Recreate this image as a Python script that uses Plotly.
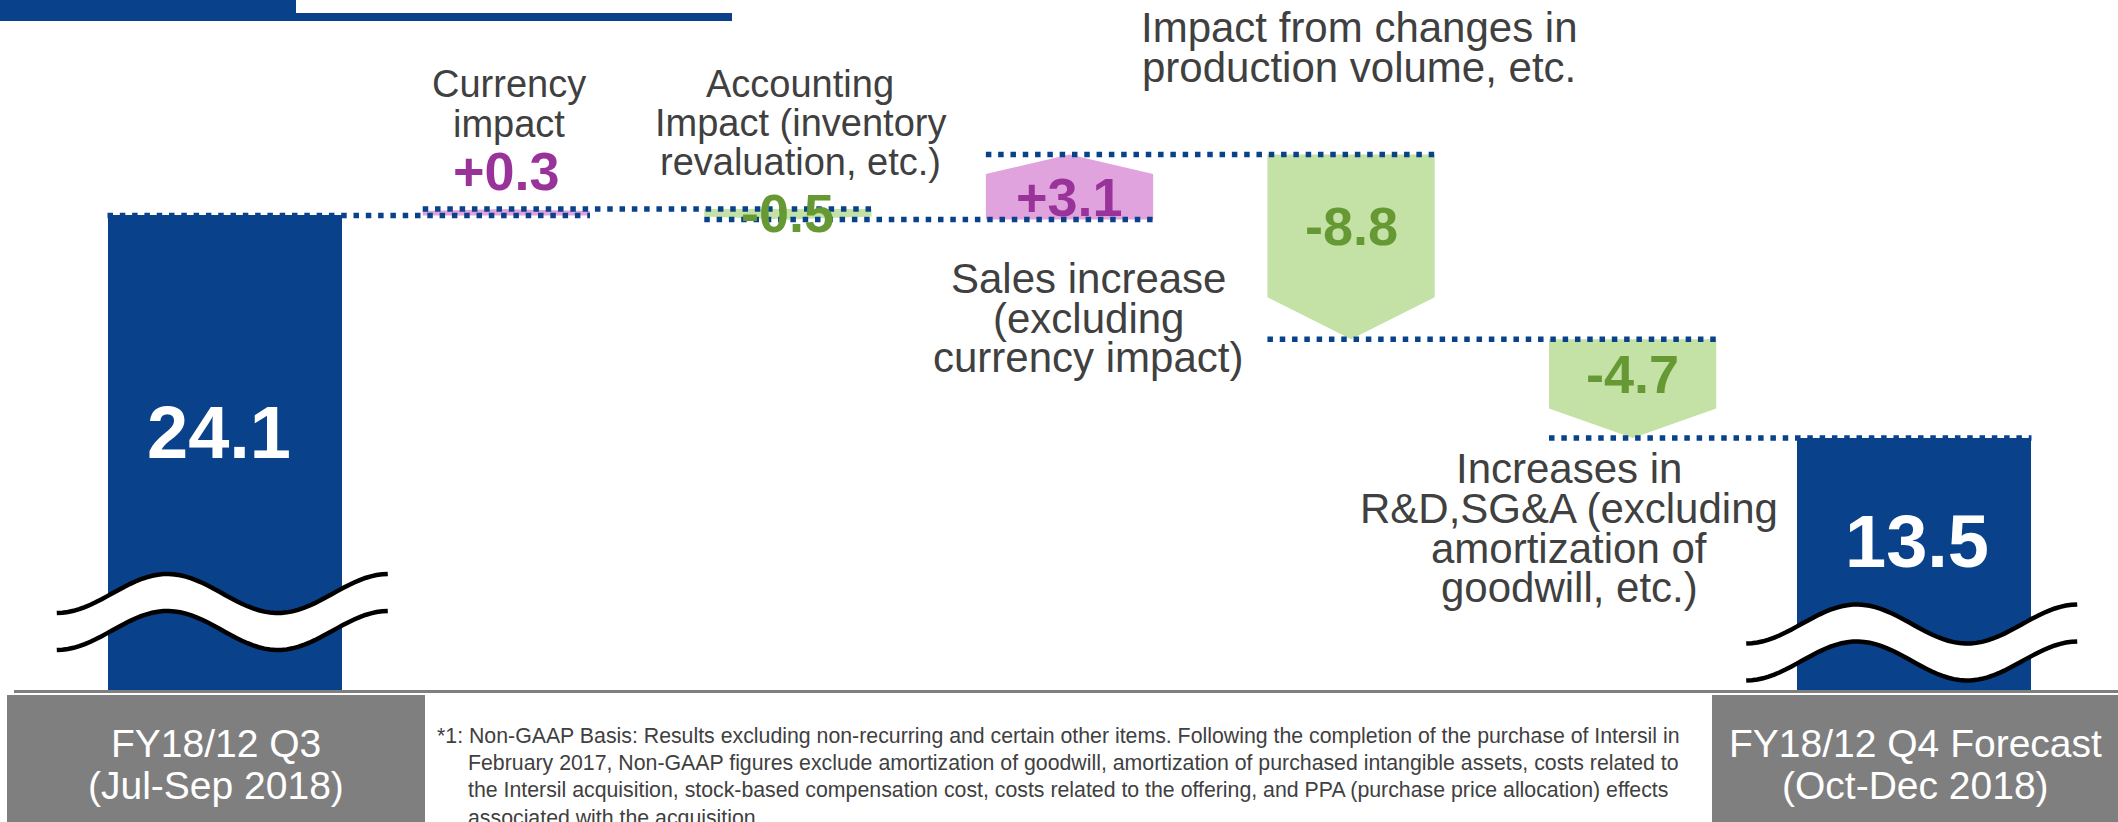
import numpy as np
import plotly.graph_objects as go

# ---------------- data ----------------
categories = ["FY18/12 Q3", "Currency impact", "Accounting impact", "Sales increase",
              "Production volume impact", "R&D, SG&A increase", "FY18/12 Q4 Forecast"]
q3_value = 24.1
step_changes = [0.3, -0.5, 3.1, -8.8, -4.7]
q4_value = 13.5
value_labels = ["24.1", "+0.3", "-0.5", "+3.1", "-8.8", "-4.7", "13.5"]

currency_text = ["Currency", "impact"]
accounting_text = ["Accounting", "Impact (inventory", "revaluation, etc.)"]
sales_text = ["Sales increase", "(excluding", "currency impact)"]
production_text = ["Impact from changes in", "production volume, etc."]
rd_text = ["Increases in", "R&D,SG&A (excluding", "amortization of", "goodwill, etc.)"]
q3_period = ["FY18/12 Q3", "(Jul-Sep 2018)"]
q4_period = ["FY18/12 Q4 Forecast", "(Oct-Dec 2018)"]
footnote = [
    "*1: Non-GAAP Basis: Results excluding non-recurring and certain other items. Following the completion of the purchase of Intersil in",
    "February 2017, Non-GAAP figures exclude amortization of goodwill, amortization of purchased intangible assets, costs related to",
    "the Intersil acquisition, stock-based compensation cost, costs related to the offering, and PPA (purchase price allocation) effects",
    "associated with the acquisition.",
]

# ---------------- layout constants ----------------
W, H = 2118, 822
ML, MR, MT, MB = 84, 63, 0, 132
PW, PH = W - ML - MR, H - MT - MB
PX_PER_Y = 21.0
Y_MIN = 1.5
Y_MAX = Y_MIN + PH / PX_PER_Y
PX_PER_X = PW / 7.0

BLUE = "#09428a"
PINK = "#e0a3de"
GREEN = "#c4e1a6"
PURPLE = "#993399"
DKGREEN = "#669933"
TXT = "#404040"
GRAY = "#7f7f7f"
FONT = "Liberation Sans, Arial, sans-serif"

BIG_W = 0.833
SMALL_W = 0.594


def xp(px):
    return (px - ML) / PW


def yp(py):
    return (MT + PH - py) / PH


def cat_px(i):
    return ML + (i + 0.5) * PX_PER_X


def line_ann(txt, cx, baseline, size, color, bold=False, anchor="center"):
    return dict(text=txt, xref="paper", yref="paper", x=xp(cx),
                y=yp(baseline - 0.3465 * size), xanchor=anchor, yanchor="middle",
                showarrow=False,
                font=dict(family=FONT, size=size, color=color,
                          weight="bold" if bold else "normal"))


fig = go.Figure()

# cumulative levels
levels = [q3_value]
for c in step_changes:
    levels.append(round(levels[-1] + c, 4))
x_idx = list(range(len(categories)))
widths = [BIG_W] + [SMALL_W] * len(step_changes) + [BIG_W]

# total bars
fig.add_trace(go.Bar(x=[x_idx[0], x_idx[-1]], y=[q3_value, q4_value],
                     width=[BIG_W, BIG_W], marker=dict(color=BLUE, line=dict(width=0)),
                     hoverinfo="skip"))

# step arrows
for j, v in enumerate(step_changes, start=1):
    s, e = levels[j - 1], levels[j]
    hw = SMALL_W / 2
    tip = np.sign(v) * min(0.3 * abs(v), 2.0)
    xs = [j - hw, j + hw, j + hw, j, j - hw, j - hw]
    ys = [s, s, e - tip, e, e - tip, s]
    fig.add_trace(go.Scatter(x=xs, y=ys, mode="lines", fill="toself",
                             fillcolor=PINK if v > 0 else GREEN,
                             line=dict(width=0), hoverinfo="skip"))

# dotted connectors
for i in range(len(levels)):
    x0 = x_idx[i] - widths[i] / 2
    x1 = x_idx[i + 1] + widths[i + 1] / 2
    fig.add_trace(go.Scatter(x=[x0, x1], y=[levels[i], levels[i]], mode="lines",
                             line=dict(color=BLUE, width=5.5, dash="5.5px,6.8px"),
                             hoverinfo="skip"))

annotations = []
VAL_SIZE = 54

# value labels for steps
for j, v in enumerate(step_changes, start=1):
    s, e = levels[j - 1], levels[j]
    col = PURPLE if v > 0 else DKGREEN
    tip = np.sign(v) * min(0.3 * abs(v), 2.0)
    if j == 1:
        annotations.append(dict(text=value_labels[j], x=j, y=e, xref="x", yref="y",
                                xanchor="center", yanchor="bottom", yshift=6,
                                showarrow=False,
                                font=dict(family=FONT, size=VAL_SIZE, color=col, weight="bold")))
    else:
        ymid = s + (v - tip) / 2
        annotations.append(dict(text=value_labels[j], x=j, y=ymid, xref="x", yref="y",
                                xanchor="center", yanchor="middle", showarrow=False,
                                font=dict(family=FONT, size=VAL_SIZE, color=col, weight="bold")))

# total labels (white, in bars)
annotations.append(dict(text=value_labels[0], x=x_idx[0], y=yp(458 - 0.3465 * 74),
                        xref="x", yref="paper", xanchor="center", yanchor="middle",
                        xshift=-6, showarrow=False,
                        font=dict(family=FONT, size=74, color="white", weight="bold")))
annotations.append(dict(text=value_labels[-1], x=x_idx[-1], y=yp(567 - 0.3465 * 74),
                        xref="x", yref="paper", xanchor="center", yanchor="middle",
                        xshift=3, showarrow=False,
                        font=dict(family=FONT, size=74, color="white", weight="bold")))

# category descriptions
for t, b in zip(currency_text, [97, 137]):
    annotations.append(line_ann(t, 509, b, 38, TXT))
for t, b in zip(accounting_text, [97, 136, 175]):
    annotations.append(line_ann(t, 800, b, 38, TXT))
for t, b in zip(sales_text, [293, 333, 372]):
    annotations.append(line_ann(t, 1088, b, 42, TXT))
for t, b in zip(production_text, [42, 82]):
    annotations.append(line_ann(t, 1359, b, 42, TXT))
for t, b in zip(rd_text, [483, 523, 563, 602]):
    annotations.append(line_ann(t, 1569, b, 42, TXT))

# period labels in gray boxes
for t, b in zip(q3_period, [757, 799]):
    annotations.append(line_ann(t, 216, b, 39, "white"))
for t, b in zip(q4_period, [757, 799]):
    annotations.append(line_ann(t, 1915, b, 39, "white"))

# footnote
for k, (t, b) in enumerate(zip(footnote, [743, 770, 797, 825])):
    annotations.append(line_ann(t, 435 if k == 0 else 466, b, 21.3, TXT, anchor="left"))

shapes = []
# top banner
shapes.append(dict(type="rect", xref="paper", yref="paper", x0=xp(-2), x1=xp(296),
                   y0=yp(21), y1=yp(-2), fillcolor=BLUE, line=dict(width=0), layer="above"))
shapes.append(dict(type="rect", xref="paper", yref="paper", x0=xp(-2), x1=xp(732),
                   y0=yp(21), y1=yp(13), fillcolor=BLUE, line=dict(width=0), layer="above"))
# bottom gray line and boxes
shapes.append(dict(type="rect", xref="paper", yref="paper", x0=xp(14), x1=xp(W + 2),
                   y0=yp(693), y1=yp(690), fillcolor=GRAY, line=dict(width=0), layer="above"))
shapes.append(dict(type="rect", xref="paper", yref="paper", x0=xp(7), x1=xp(425),
                   y0=yp(H + 2), y1=yp(695), fillcolor=GRAY, line=dict(width=0), layer="above"))
shapes.append(dict(type="rect", xref="paper", yref="paper", x0=xp(1712), x1=xp(W + 2),
                   y0=yp(H + 2), y1=yp(695), fillcolor=GRAY, line=dict(width=0), layer="above"))


# axis-break wave symbols (paper-referenced so they are not clipped)
def wave(cpx, yc, offset):
    dx = np.linspace(-168, 163, 60)
    yy = yc + offset + 19.5 * np.cos(2 * np.pi * (dx + 168) / 221.0)
    return cpx + dx, yy


for i, yc in [(x_idx[0], 593.5), (x_idx[-1], 624)]:
    cpx = cat_px(i)
    xa, ya = wave(cpx, yc, 0)
    xb, yb = wave(cpx, yc, 37)
    pts = list(zip(xa, ya)) + list(zip(xb[::-1], yb[::-1]))
    path = "M " + " L ".join(f"{xp(x):.5f},{yp(y):.5f}" for x, y in pts) + " Z"
    shapes.append(dict(type="path", xref="paper", yref="paper", path=path,
                       fillcolor="white", line=dict(width=0), layer="above"))
    for xx, yy in [(xa, ya), (xb, yb)]:
        p = "M " + " L ".join(f"{xp(x):.5f},{yp(y):.5f}" for x, y in zip(xx, yy))
        shapes.append(dict(type="path", xref="paper", yref="paper", path=p,
                           line=dict(color="black", width=4.5), layer="above"))

fig.update_layout(
    width=W, height=H,
    margin=dict(l=ML, r=MR, t=MT, b=MB, pad=0),
    paper_bgcolor="white", plot_bgcolor="white",
    showlegend=False,
    xaxis=dict(range=[-0.5, 6.5], visible=False, fixedrange=True),
    yaxis=dict(range=[Y_MIN, Y_MAX], visible=False, fixedrange=True),
    annotations=annotations,
    shapes=shapes,
    bargap=0,
)

fig.write_html("out.html", config={"displayModeBar": False},
               post_script="document.body.style.margin='0px';document.body.style.overflow='hidden';")
